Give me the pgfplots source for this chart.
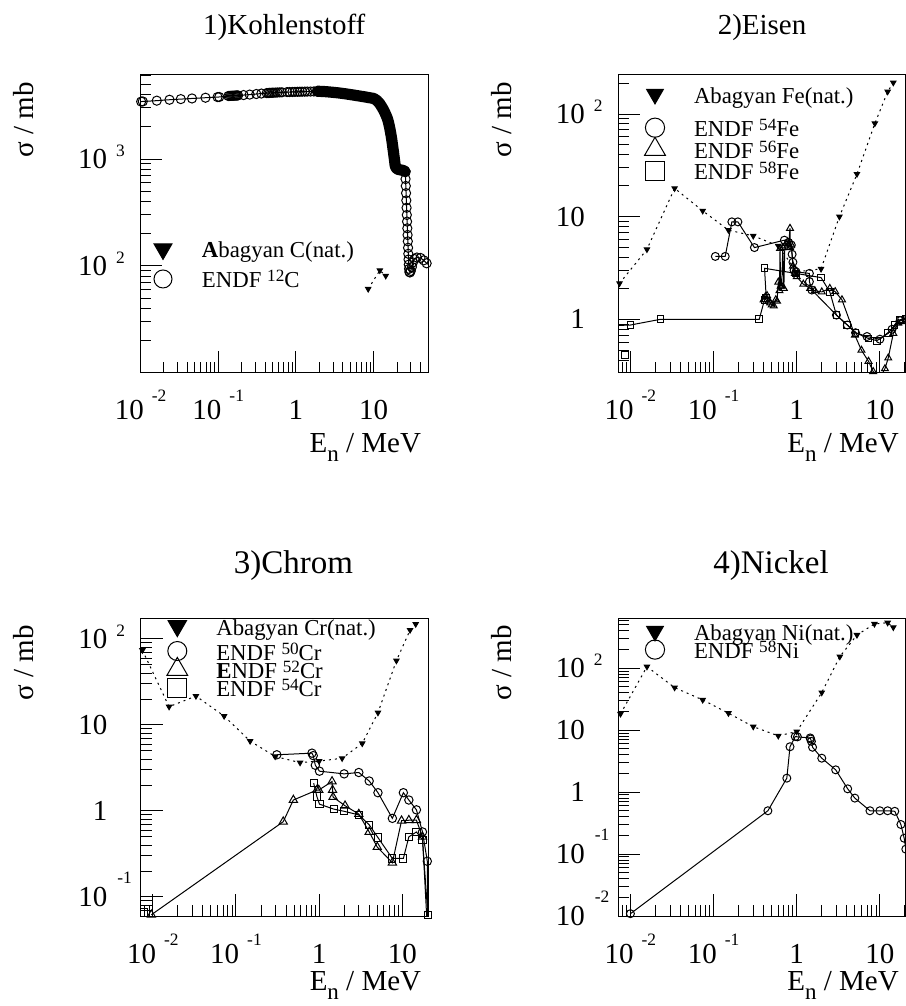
\documentclass[border=0pt]{standalone}
\usepackage{fontspec}
\setmainfont{Liberation Serif}
\usepackage{pgfplots}
\pgfplotsset{compat=1.18}

\newcommand\fsz[1]{\fontsize{#1}{#1}\selectfont}
\newcommand\expf{\fontsize{8.7pt}{9pt}\selectfont}
\newcommand\xten[1]{10\hspace{4pt}\raisebox{9pt}{\expf #1}}
\newcommand\yten[1]{10\smash{\rlap{\hspace{4.5pt}\raisebox{6pt}{\expf #1}}}}
\newcommand\ytenneg[1]{10\smash{\rlap{\hspace{5pt}\raisebox{11.5pt}{\expf #1}}}\hspace{4pt}}
\newcommand\iso[1]{\raisebox{3pt}{\fontsize{8.6pt}{9pt}\selectfont #1}}
\newcommand\lst[1]{\vrule height 11pt depth #1 width 0pt\relax}

\pgfplotsset{
 abag/.style={forget plot, black, line width=0.5pt, dash pattern=on 1pt off 2pt, mark=triangle*, mark size=1.5pt, mark options={solid, rotate=180, fill=black}},
 circ/.style={forget plot, black, line width=0.5pt, mark=o, mark size=#1, mark options={solid}},
 tri/.style={forget plot, black, line width=0.5pt, mark=triangle, mark size=#1, mark options={solid}},
 sq/.style={forget plot, black, line width=0.5pt, mark=square, mark size=#1, mark options={solid}},
}

\begin{document}
\begin{tikzpicture}
\useasboundingbox (0,0) rectangle (452.5pt,503pt);

% ---------------- 1) Kohlenstoff ----------------
\begin{axis}[
  scale only axis, width=143.75pt, height=149pt,
  at={(70.25pt,316.5pt)}, anchor=south west,
  xmode=log, ymode=log,
  axis line style={line width=0.5pt},
  tick align=inside, tick pos=left,
  major tick length=11pt, minor tick length=5.5pt,
  every tick/.append style={black, line width=0.5pt},
  tick label style={font=\fsz{14.5pt}},
  xticklabel style={anchor=base, yshift=-23.5pt, inner sep=0pt},
  yticklabel style={anchor=east, xshift=-16.5pt, inner sep=0pt},
  xtick={0.01,0.1,1,10}, xticklabels={\xten{-2},\xten{-1},1,10},
  title style={at={(axis description cs:0.5,1)}, anchor=base, yshift=14pt, font=\fsz{14.5pt}},
  ylabel style={at={(axis description cs:-0.3722,1)}, rotate=0, anchor=base east, font=\fsz{14.5pt}},
  xlabel style={at={(axis description cs:1,0)}, anchor=base east, yshift=-40pt, font=\fsz{14.5pt}},
  ylabel={σ / mb}, xlabel={E\raisebox{-4.5pt}{\fsz{11.5pt}n} / MeV},
  legend image code/.code={\path[draw=none,fill=none] (-9pt,0pt) -- (9pt,0pt); \draw[#1] plot coordinates {(0pt,4.5pt)};},
  legend style={draw=none, fill=none, inner sep=0pt, outer sep=0pt,
    nodes={inner sep=0pt, text depth=, text height=, font=\fsz{11.4pt}, anchor=base west},
    column sep=10.5pt, at={(axis description cs:0,1)}, anchor=north west,
    xshift=2.25pt, yshift=-80.5pt, row sep=1pt},
  xmin=0.01, xmax=50, ymin=10, ymax=6100,
  ytick={100,1000}, yticklabels={\yten{2},\yten{3}},
  minor xtick={0.02,0.03,0.04,0.05,0.06,0.07,0.08,0.09,0.2,0.3,0.4,0.5,0.6,0.7,0.8,0.9,2,3,4,5,6,7,8,9,20,30,40},
  minor ytick={20,30,40,50,60,70,80,90,200,300,400,500,600,700,800,900,2000,3000,4000,5000,6000},
  title={1)Kohlenstoff}]
\addlegendimage{black, line width=0.5pt, mark=triangle*, mark size=5.2pt, mark options={rotate=180, fill=black}}
\addlegendentry{\lst{3pt}\textbf{A}bagyan C(nat.)}
\addlegendimage{black, line width=0.5pt, mark=o, mark size=4.5pt}
\addlegendentry{\lst{3pt}ENDF \iso{12}C}
\addplot[forget plot, black, line width=5.6pt, line join=round, line cap=round] coordinates {
(1.88,4290)(2.0,4290)(2.3,4270)(2.6,4240)(3.0,4200)(3.4,4160)(3.8,4120)(4.3,4070)(4.8,4020)(5.4,3970)(6.0,3920)(6.7,3870)(7.5,3820)(8.3,3770)(9.2,3720)(10.0,3680)(10.5,3600)(11.0,3520)(11.5,3400)(12.0,3280)(12.5,3130)(13.0,2990)(13.5,2840)(14.0,2690)(14.5,2540)(15.0,2390)(15.5,2200)(16.0,1990)(16.5,1770)(17.0,1560)(17.5,1340)(18.0,1150)(18.5,990)(18.9,870)(19.4,830)(20.0,810)(20.7,800)(21.5,795)(22.3,790)(23.2,786)(24.0,780)(24.8,772)(25.5,760)};
\addplot[circ=2.3pt] coordinates {
(0.0102,3440)(0.0107,3450)(0.0162,3510)(0.0236,3580)(0.033,3630)(0.046,3680)(0.0686,3740)(0.098,3790)(0.103,3800)
(0.135,3880)(0.14,3890)(0.145,3895)(0.15,3900)(0.155,3905)(0.16,3910)(0.165,3915)(0.17,3920)(0.175,3925)(0.18,3930)
(0.212,3960)(0.254,4000)(0.309,4050)(0.359,4090)(0.42,4130)(0.44,4140)(0.46,4150)(0.48,4160)(0.50,4165)(0.52,4170)
(0.55,4175)(0.58,4185)(0.62,4195)(0.66,4200)(0.77,4220)(0.83,4225)(0.9,4235)(0.97,4240)(1.05,4250)(1.12,4255)
(1.2,4258)(1.3,4262)(1.4,4266)(1.54,4270)(1.7,4280)(1.88,4290)
(2.0,4290)(2.15,4280)(2.3,4270)(2.45,4255)(2.6,4240)(2.8,4220)(3.0,4200)(3.2,4180)(3.4,4160)(3.6,4140)(3.8,4120)
(4.05,4095)(4.3,4070)(4.55,4045)(4.8,4020)(5.1,3995)(5.4,3970)(5.7,3945)(6.0,3920)(6.35,3895)(6.7,3870)(7.1,3845)
(7.5,3820)(7.9,3795)(8.3,3770)(8.75,3745)(9.2,3720)(9.6,3700)(10.0,3680)(10.5,3600)(11.0,3520)(11.5,3400)(12.0,3280)
(12.5,3130)(13.0,2990)(13.5,2840)(14.0,2690)(14.5,2540)(15.0,2390)(15.5,2200)(16.0,1990)(16.5,1770)(17.0,1560)
(17.5,1340)(18.0,1150)(18.5,990)(18.9,870)(19.4,830)(20.0,810)(20.7,800)(21.5,795)(22.3,790)(23.2,786)(24.0,780)
(24.8,772)(25.5,760)(25.7,650)(25.9,560)(26.1,480)(26.3,410)(26.5,350)(26.7,300)(26.9,260)(27.1,225)(27.3,195)
(27.5,170)(27.7,148)(27.9,130)(28.1,115)(28.3,103)(28.5,94)(28.8,88)(29.3,87)(30.0,90)(31.0,98)(32.0,108)(33.5,116)
(36.0,120)(40.0,119)(44.0,113)(48.0,106)(51.0,103)};
\addplot[abag] coordinates {(8.5,61)(12,91)(14.3,81)};
\end{axis}

% ---------------- 2) Eisen ----------------
\begin{axis}[
  scale only axis, width=143.75pt, height=149pt,
  at={(309.15pt,316.5pt)}, anchor=south west,
  xmode=log, ymode=log,
  axis line style={line width=0.5pt},
  tick align=inside, tick pos=left,
  major tick length=11pt, minor tick length=5.5pt,
  every tick/.append style={black, line width=0.5pt},
  tick label style={font=\fsz{14.5pt}},
  xticklabel style={anchor=base, yshift=-23.5pt, inner sep=0pt},
  yticklabel style={anchor=east, xshift=-16.5pt, inner sep=0pt},
  xtick={0.01,0.1,1,10}, xticklabels={\xten{-2},\xten{-1},1,10},
  title style={at={(axis description cs:0.5,1)}, anchor=base, yshift=14pt, font=\fsz{14.5pt}},
  ylabel style={at={(axis description cs:-0.3722,1)}, rotate=0, anchor=base east, font=\fsz{14.5pt}},
  xlabel style={at={(axis description cs:1,0)}, anchor=base east, yshift=-40pt, font=\fsz{14.5pt}},
  ylabel={σ / mb}, xlabel={E\raisebox{-4.5pt}{\fsz{11.5pt}n} / MeV},
  legend image code/.code={\path[draw=none,fill=none] (-9pt,0pt) -- (9pt,0pt); \draw[#1] plot coordinates {(0pt,4.5pt)};},
  legend style={draw=none, fill=none, inner sep=0pt, outer sep=0pt,
    nodes={inner sep=0pt, text depth=, text height=, font=\fsz{11.4pt}, anchor=base west},
    column sep=10.5pt, at={(axis description cs:0,1)}, anchor=north west,
    xshift=9.35pt, yshift=-3.15pt, row sep=-3.2pt},
  xmin=0.00715, xmax=20.5, ymin=0.30, ymax=240,
  ytick={1,10,100}, yticklabels={1,10,\yten{2}},
  minor xtick={0.008,0.009,0.02,0.03,0.04,0.05,0.06,0.07,0.08,0.09,0.2,0.3,0.4,0.5,0.6,0.7,0.8,0.9,2,3,4,5,6,7,8,9,20},
  minor ytick={0.4,0.5,0.6,0.7,0.8,0.9,2,3,4,5,6,7,8,9,20,30,40,50,60,70,80,90,200},
  title={2)Eisen}]
\addlegendimage{black, line width=0.5pt, mark=triangle*, mark size=4.8pt, mark options={rotate=180, fill=black}}
\addlegendentry{\lst{8.9pt}Abagyan Fe(nat.)}
\addlegendimage{black, line width=0.5pt, mark=o, mark size=4.8pt}
\addlegendentry{\lst{3pt}ENDF \iso{54}Fe}
\addlegendimage{black, line width=0.5pt, mark=triangle, mark size=6pt}
\addlegendentry{\lst{3pt}ENDF \iso{56}Fe}
\addlegendimage{black, line width=0.5pt, mark=square, mark size=4.8pt}
\addlegendentry{\lst{3pt}ENDF \iso{58}Fe}
\addplot[abag] coordinates {(0.0074,2.24)(0.0158,4.8)(0.034,18.9)(0.074,11.4)(0.151,7.4)(0.30,6.5)(0.60,5.2)(1.0,2.9)(1.96,3.1)(3.26,10.0)(5.3,26)(8.7,81)(12.4,165)(14.5,202)};
\addplot[circ=2pt] coordinates {(0.105,4.1)(0.138,4.1)(0.166,8.9)(0.196,8.9)(0.31,5.0)(0.71,5.9)(0.80,5.6)(0.86,5.3)(0.88,4.3)(0.90,3.6)(0.93,3.0)(0.98,2.9)(1.42,2.8)(1.42,2.33)(1.52,1.93)(3.0,1.1)(4.06,0.88)(5.1,0.74)(7.0,0.68)(10,0.64)(14,0.80)(17.5,0.97)(20.5,1.0)};
\addplot[tri=2pt] coordinates {(0.40,1.55)(0.42,1.66)(0.44,1.70)(0.46,1.50)(0.48,1.45)(0.50,1.38)(0.53,1.35)(0.56,1.55)(0.58,1.50)(0.60,2.3)(0.62,1.9)(0.63,4.9)(0.64,2.1)(0.66,2.1)(0.68,5.0)(0.70,2.0)(0.72,5.2)(0.75,5.5)(0.80,5.4)(0.83,7.7)(0.83,5.0)(0.86,5.3)(0.90,3.3)(0.95,2.8)(1.0,2.6)(1.2,2.2)(1.45,2.0)(1.65,1.9)(2.0,1.85)(2.5,2.0)(2.9,1.86)(3.5,1.55)(5.0,0.70)(6.0,0.50)(7.3,0.39)(8.3,0.31)(9.3,0.29)(10.5,0.29)(11.5,0.33)(12.6,0.42)(14.5,0.73)(16.6,0.92)(20,0.95)};
\addplot[sq=1.7pt] coordinates {(0.0068,0.87)(0.010,0.88)(0.023,1.0)(0.354,1.0)(0.41,1.55)(0.43,1.6)(0.41,3.14)(0.98,2.8)(1.96,2.55)(2.5,1.85)(3.0,1.1)(4.06,0.88)(5.1,0.74)(7.3,0.65)(9.2,0.62)(12.6,0.73)(15,0.88)(17.4,0.99)(20.5,1.02)};
\addplot[sq=1.7pt, only marks] coordinates {(0.0087,0.45)};
\end{axis}

% ---------------- 3) Chrom ----------------
\begin{axis}[
  scale only axis, width=143.75pt, height=148.85pt,
  at={(70.35pt,45pt)}, anchor=south west,
  xmode=log, ymode=log, unbounded coords=jump,
  axis line style={line width=0.5pt},
  tick align=inside, tick pos=left,
  major tick length=11pt, minor tick length=5.5pt,
  every tick/.append style={black, line width=0.5pt},
  tick label style={font=\fsz{14.5pt}},
  xticklabel style={anchor=base, yshift=-23.5pt, inner sep=0pt},
  yticklabel style={anchor=east, xshift=-16.5pt, inner sep=0pt},
  xtick={0.01,0.1,1,10}, xticklabels={\xten{-2},\xten{-1},1,10},
  title style={at={(axis description cs:0.5,1)}, anchor=base, xshift=4.5pt, yshift=16.6pt, font=\fsz{16.5pt}},
  ylabel style={at={(axis description cs:-0.3722,1)}, rotate=0, anchor=base east, font=\fsz{14.5pt}},
  xlabel style={at={(axis description cs:1,0)}, anchor=base east, yshift=-37pt, font=\fsz{14.5pt}},
  ylabel={σ / mb}, xlabel={E\raisebox{-4.5pt}{\fsz{11.5pt}n} / MeV},
  legend image code/.code={\path[draw=none,fill=none] (-9pt,0pt) -- (9pt,0pt); \draw[#1] plot coordinates {(0pt,4.5pt)};},
  legend style={draw=none, fill=none, inner sep=0pt, outer sep=0pt,
    nodes={inner sep=0pt, text depth=, text height=, font=\fsz{11.4pt}, anchor=base west},
    column sep=10.5pt, at={(axis description cs:0,1)}, anchor=north west,
    xshift=9.3pt, yshift=2.65pt, row sep=-4.8pt},
  xmin=0.00715, xmax=20.5, ymin=0.06, ymax=174,
  ytick={0.1,1,10,100}, yticklabels={\ytenneg{-1},1,10,\yten{2}},
  minor xtick={0.008,0.009,0.02,0.03,0.04,0.05,0.06,0.07,0.08,0.09,0.2,0.3,0.4,0.5,0.6,0.7,0.8,0.9,2,3,4,5,6,7,8,9,20},
  minor ytick={0.07,0.08,0.09,0.2,0.3,0.4,0.5,0.6,0.7,0.8,0.9,2,3,4,5,6,7,8,9,20,30,40,50,60,70,80,90},
  title={3)Chrom}]
\addlegendimage{black, line width=0.5pt, mark=triangle*, mark size=5.3pt, mark options={rotate=180, fill=black}}
\addlegendentry{\lst{6.3pt}Abagyan Cr(nat.)}
\addlegendimage{black, line width=0.5pt, mark=o, mark size=4.75pt}
\addlegendentry{\lst{3pt}ENDF \iso{50}Cr}
\addlegendimage{black, line width=0.5pt, mark=triangle, mark size=6pt}
\addlegendentry{\lst{3pt}\textbf{E}NDF \iso{52}Cr}
\addlegendimage{black, line width=0.5pt, mark=square, mark size=4.75pt}
\addlegendentry{\lst{3pt}ENDF \iso{54}Cr}
\addplot[abag] coordinates {(0.0075,74)(0.0157,16.3)(0.033,21.7)(0.072,12.7)(0.148,6.5)(0.296,4.3)(0.59,3.65)(1.0,3.8)(1.89,4.1)(3.3,6.1)(5.1,13.9)(8.5,56)(12.4,127)(14.5,149)};
\addplot[circ=2.1pt] coordinates {(0.31,4.5)(0.82,4.7)(0.85,4.4)(0.90,3.4)(1.01,2.9)(2.0,2.7)(3.0,2.8)(4.0,2.23)(5.1,1.63)(7.6,0.82)(10.3,1.63)(12.0,1.34)(14.8,1.03)(17.5,0.57)(20.0,0.26)(20.4,0.03)};
\addplot[tri=2.4pt] coordinates {(0.0096,0.062)(0.37,0.75)(0.49,1.34)(0.94,1.75)(0.99,1.75)(1.43,2.2)(1.45,1.75)(1.47,1.45)(2.05,1.15)(3.0,0.92)(4.0,0.57)(5.0,0.38)(7.6,0.25)(9.8,0.77)(12.0,0.78)(14.8,0.78)(17.5,0.50)(20.4,0.03)};
\addplot[sq=1.8pt] coordinates {(0.0078,0.066)(0.5,nan)(0.86,2.1)(0.94,1.47)(1.01,1.2)(1.5,1.05)(2.0,0.99)(3.0,0.90)(4.0,0.69)(5.1,0.49)(7.6,0.28)(10.3,0.28)(12.0,0.50)(14.8,0.57)(17.5,0.46)(20.3,0.062)(20.45,0.03)};
\end{axis}

% ---------------- 4) Nickel ----------------
\begin{axis}[
  scale only axis, width=143.75pt, height=148.85pt,
  at={(309.15pt,45pt)}, anchor=south west,
  xmode=log, ymode=log,
  axis line style={line width=0.5pt},
  tick align=inside, tick pos=left,
  major tick length=11pt, minor tick length=5.5pt,
  every tick/.append style={black, line width=0.5pt},
  tick label style={font=\fsz{14.5pt}},
  xticklabel style={anchor=base, yshift=-23.5pt, inner sep=0pt},
  yticklabel style={anchor=east, xshift=-16.5pt, inner sep=0pt},
  xtick={0.01,0.1,1,10}, xticklabels={\xten{-2},\xten{-1},1,10},
  title style={at={(axis description cs:0.5,1)}, anchor=base, xshift=4.5pt, yshift=16.6pt, font=\fsz{16.5pt}},
  ylabel style={at={(axis description cs:-0.3722,1)}, rotate=0, anchor=base east, font=\fsz{14.5pt}},
  xlabel style={at={(axis description cs:1,0)}, anchor=base east, yshift=-37pt, font=\fsz{14.5pt}},
  ylabel={σ / mb}, xlabel={E\raisebox{-4.5pt}{\fsz{11.5pt}n} / MeV},
  legend image code/.code={\path[draw=none,fill=none] (-9pt,0pt) -- (9pt,0pt); \draw[#1] plot coordinates {(0pt,4.5pt)};},
  legend style={draw=none, fill=none, inner sep=0pt, outer sep=0pt,
    nodes={inner sep=0pt, text depth=, text height=, font=\fsz{11.4pt}, anchor=base west},
    column sep=10.5pt, at={(axis description cs:0,1)}, anchor=north west,
    xshift=9.35pt, yshift=0pt, row sep=-4.85pt},
  xmin=0.00715, xmax=20.5, ymin=0.01, ymax=640,
  ytick={0.01,0.1,1,10,100}, yticklabels={\ytenneg{-2},\ytenneg{-1},1,10,\yten{2}},
  minor xtick={0.008,0.009,0.02,0.03,0.04,0.05,0.06,0.07,0.08,0.09,0.2,0.3,0.4,0.5,0.6,0.7,0.8,0.9,2,3,4,5,6,7,8,9,20},
  minor ytick={0.02,0.03,0.04,0.05,0.06,0.07,0.08,0.09,0.2,0.3,0.4,0.5,0.6,0.7,0.8,0.9,2,3,4,5,6,7,8,9,20,30,40,50,60,70,80,90,200,300,400,500,600},
  title={4)Nickel}]
\addlegendimage{black, line width=0.5pt, mark=triangle*, mark size=4.8pt, mark options={rotate=180, fill=black}}
\addlegendentry{\lst{3pt}Abagyan Ni(nat.)}
\addlegendimage{black, line width=0.5pt, mark=o, mark size=4.8pt}
\addlegendentry{\lst{3pt}ENDF \iso{58}Ni}
\addplot[abag] coordinates {(0.0076,18.3)(0.0158,106)(0.034,48.7)(0.074,30.8)(0.151,18.8)(0.30,11.4)(0.60,8.1)(1.0,9.5)(2.0,40.5)(3.3,154)(5.3,344)(8.6,519)(12.4,543)(14.5,457)};
\addplot[circ=2pt] coordinates {(0.010,0.0109)(0.45,0.50)(0.76,1.68)(0.83,5.4)(0.96,7.9)(1.02,7.8)(1.45,7.5)(1.47,7.2)(1.50,6.6)(1.55,5.3)(2.0,3.53)(2.94,2.29)(4.1,1.13)(5.0,0.80)(7.6,0.50)(10,0.50)(12.4,0.50)(15.1,0.49)(17.9,0.30)(19.6,0.18)(20.5,0.12)};
\end{axis}
\end{tikzpicture}
\end{document}
